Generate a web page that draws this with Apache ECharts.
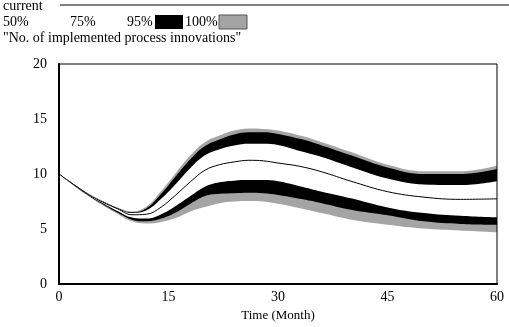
<!DOCTYPE html>
<html>
<head>
<meta charset="utf-8">
<script src="https://cdn.jsdelivr.net/npm/echarts@6/dist/echarts.min.js"></script>
<style>
  html, body { margin: 0; padding: 0; background: #fff; }
  #chart { width: 509px; height: 327px; }
</style>
</head>
<body>
<div id="chart"></div>
<script>
// Sensitivity run: implemented process innovations over time (months)
const months = [0, 2, 4, 6, 8, 10, 12, 14, 16, 18, 20, 22, 24, 26, 28, 30, 33, 36, 40, 45, 50, 55, 60];

// envelope of all runs (100%)
const maxRun  = [10, 9.1, 8.25, 7.55, 6.95, 6.6, 7.05, 8.45, 10.1, 11.7, 12.9, 13.5, 13.95, 14.15, 14.1, 13.95, 13.5, 12.9, 12.0, 10.85, 10.25, 10.25, 10.75];
const minRun  = [10, 8.96, 8.0, 7.15, 6.4, 5.7, 5.5, 5.65, 6.0, 6.6, 7.0, 7.35, 7.5, 7.55, 7.5, 7.3, 6.9, 6.45, 5.85, 5.4, 5.05, 4.87, 4.7];
// 95% band limits
const upper95 = [10, 9.08, 8.22, 7.52, 6.9, 6.52, 6.9, 8.2, 9.8, 11.35, 12.55, 13.15, 13.6, 13.8, 13.8, 13.65, 13.2, 12.6, 11.7, 10.6, 10.0, 10.0, 10.45];
const lower95 = [10, 8.98, 8.05, 7.25, 6.5, 5.85, 5.7, 5.95, 6.5, 7.3, 8.0, 8.2, 8.25, 8.3, 8.25, 8.1, 7.75, 7.35, 6.75, 6.25, 5.7, 5.47, 5.4];
// 75% band limits
const upper75 = [10, 9.06, 8.2, 7.5, 6.85, 6.45, 6.7, 7.75, 9.1, 10.55, 11.7, 12.25, 12.6, 12.75, 12.75, 12.65, 12.1, 11.55, 10.65, 9.6, 9.05, 9.0, 9.35];
const lower75 = [10, 9.0, 8.1, 7.35, 6.65, 6.05, 5.95, 6.35, 7.1, 8.0, 8.85, 9.25, 9.4, 9.45, 9.45, 9.35, 8.9, 8.4, 7.8, 6.97, 6.45, 6.2, 6.05];
// base run
const current = [10, 9.05, 8.15, 7.45, 6.85, 6.3, 6.35, 7.0, 8.1, 9.3, 10.35, 10.85, 11.1, 11.25, 11.2, 11.0, 10.7, 10.2, 9.35, 8.4, 7.9, 7.7, 7.75];

const xTicks = [0, 15, 30, 45, 60];
const yTicks = [0, 5, 10, 15, 20];

const FONT = 'Liberation Serif';
const GRAY = '#a4a4a4';
const BLACK = '#000000';
const WHITE = '#ffffff';

// Bands are painted top-down: each curve fills to the axis, the next one
// (lower) paints over it, leaving only the strip between the two curves.
const layers = [
  { name: '100%', values: maxRun, color: GRAY },
  { name: '95%', values: upper95, color: BLACK },
  { name: '75%', values: upper75, color: WHITE },
  { name: '75% low', values: lower75, color: BLACK },
  { name: '95% low', values: lower95, color: GRAY },
  { name: '100% low', values: minRun, color: WHITE }
];

const SMOOTH = 0.4;

const series = layers.map(function (d, k) {
  return {
    name: d.name,
    type: 'line',
    data: months.map(function (t, i) { return [t, d.values[i]]; }),
    smooth: SMOOTH,
    symbol: 'none',
    silent: true,
    lineStyle: { width: 0, opacity: 0 },
    areaStyle: { color: d.color, opacity: 1, origin: 'start' },
    z: 2 + k
  };
});

series.push({
  name: 'current',
  type: 'line',
  data: months.map(function (t, i) { return [t, current[i]]; }),
  smooth: SMOOTH,
  symbol: 'none',
  lineStyle: { color: '#000', width: 1 },
  z: 20
});

const chart = echarts.init(document.getElementById('chart'), null, { renderer: 'canvas' });

const textStyle = { fontFamily: FONT, fontSize: 14, fill: '#000' };

chart.setOption({
  animation: false,
  backgroundColor: '#ffffff',
  grid: { left: 59, top: 64, width: 438, height: 222, show: true, borderColor: '#000', borderWidth: 1, backgroundColor: 'transparent', z: 30 },
  xAxis: {
    type: 'value', z: 30,
    min: xTicks[0], max: xTicks[xTicks.length - 1], interval: 15,
    name: 'Time (Month)', nameLocation: 'middle', nameGap: 22,
    nameTextStyle: { fontFamily: FONT, fontSize: 13, color: '#000' },
    axisLine: { show: true, lineStyle: { color: '#000', width: 2 } },
    axisTick: { show: false },
    splitLine: { show: false },
    axisLabel: { fontFamily: FONT, fontSize: 14, color: '#000', margin: 6,
      formatter: function (v) { return xTicks.indexOf(v) >= 0 ? String(v) : ''; } }
  },
  yAxis: {
    type: 'value', z: 30,
    min: yTicks[0], max: yTicks[yTicks.length - 1], interval: 5,
    axisLine: { show: true, lineStyle: { color: '#000', width: 2 } },
    axisTick: { show: false },
    splitLine: { show: false },
    axisLabel: { fontFamily: FONT, fontSize: 14, color: '#000', margin: 12,
      formatter: function (v) { return yTicks.indexOf(v) >= 0 ? String(v) : ''; } }
  },
  graphic: [
    { type: 'text', left: 3, top: -1, style: Object.assign({ text: 'current' }, textStyle) },
    { type: 'line', shape: { x1: 60, y1: 5, x2: 509, y2: 5 }, style: { stroke: '#000', lineWidth: 1 } },
    { type: 'text', left: 3, top: 15, style: Object.assign({ text: '50%' }, textStyle) },
    { type: 'text', left: 70, top: 15, style: Object.assign({ text: '75%' }, textStyle) },
    { type: 'text', left: 127, top: 15, style: Object.assign({ text: '95%' }, textStyle) },
    { type: 'rect', shape: { x: 155, y: 15, width: 28, height: 14 }, style: { fill: BLACK } },
    { type: 'text', left: 185, top: 15, style: Object.assign({ text: '100%' }, textStyle) },
    { type: 'rect', shape: { x: 219, y: 15, width: 28, height: 14 }, style: { fill: GRAY, stroke: '#555', lineWidth: 1 } },
    { type: 'text', left: 3, top: 31, style: Object.assign({ text: '"No. of implemented process innovations"' }, textStyle) }
  ],
  series: series
});
</script>
</body>
</html>
